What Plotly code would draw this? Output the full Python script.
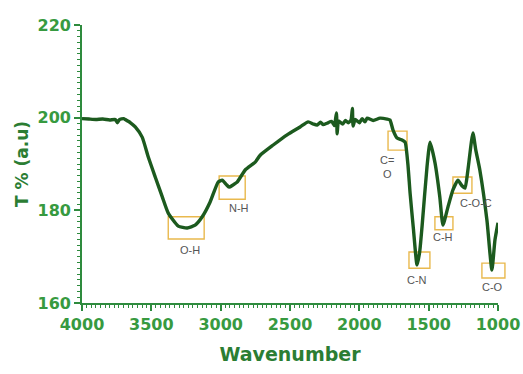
import plotly.graph_objects as go

# ---- data ----
wavenumber = [4000, 3950, 3900, 3850, 3800, 3760, 3745, 3730, 3700, 3688,
              3650, 3616, 3566, 3522, 3472, 3421, 3378, 3306, 3241, 3184,
              3133, 3076, 3018, 2989, 2960, 2939, 2910, 2881, 2823, 2751,
              2715, 2621, 2521, 2427, 2369, 2330, 2305, 2280, 2260, 2233,
              2200, 2180, 2165, 2160, 2150, 2120, 2100, 2080, 2060, 2050,
              2045, 2030, 2000, 1980, 1960, 1944, 1900, 1851, 1800, 1779,
              1757, 1728, 1692, 1670, 1650, 1634, 1610, 1584, 1565, 1548,
              1512, 1490, 1454, 1420, 1397, 1361, 1325, 1289, 1260, 1238,
              1217, 1181, 1160, 1131, 1080, 1044, 1022, 1000]
transmittance = [199.8, 199.7, 199.6, 199.7, 199.5, 199.6, 198.9, 199.6, 199.8, 199.6,
                 198.9, 198.0, 195.8, 191.5, 187.2, 182.9, 179.4, 176.6, 176.2, 176.8,
                 178.6, 181.8, 186.1, 186.5, 185.6, 185.0, 185.5, 186.1, 188.7, 190.4,
                 191.9, 194.1, 196.3, 198.0, 199.1, 198.6, 198.4, 199.0, 198.5, 198.8,
                 199.2, 198.3, 201.0, 196.5, 199.3, 198.6, 199.4, 198.9, 199.5, 202.0,
                 198.2, 199.6, 198.9, 199.8, 199.1, 199.9, 199.4, 199.9, 199.7, 199.5,
                 197.3, 195.6, 195.2, 194.7, 190.0, 183.7, 176.0, 168.2, 171.0, 176.4,
                 189.4, 194.7, 190.2, 183.0, 176.8, 180.7, 184.4, 186.5, 185.3, 184.8,
                 188.7, 196.7, 193.0, 188.7, 177.9, 167.1, 173.6, 177.3]

# band annotations: label, label position, box extent
band_labels = ["O-H", "N-H", "C=<br>O", "C-N", "C-H", "C-O-C", "C-O"]
label_x = [3220, 2867, 1800, 1584, 1397, 1159, 1037]
label_y = [171.4, 180.5, 189.4, 165.0, 174.2, 181.6, 163.4]
box_x0 = [3378, 3011, 1793, 1642, 1455, 1325, 1116]
box_x1 = [3119, 2823, 1656, 1491, 1325, 1188, 950]
box_y0 = [173.8, 182.4, 193.0, 167.5, 175.8, 183.7, 165.4]
box_y1 = [178.6, 187.4, 197.1, 171.0, 178.6, 187.2, 168.6]

x_ticks = [4000, 3500, 3000, 2500, 2000, 1500, 1000]
y_ticks = [160, 180, 200, 220]
x_range = [4000, 1000]
y_range = [160, 220]

AXIS = "#2e8b3e"
TICKTXT = "#379a40"
TITLE = "#2b7d33"
LINE = "#1c5a1e"


def x_to_paper(v):
    # position along the x axis domain (reversed axis), so shapes are not clipped
    return (x_range[0] - v) / (x_range[0] - x_range[1])


fig = go.Figure()
fig.add_trace(go.Scatter(x=wavenumber, y=transmittance, mode="lines",
                         line=dict(color=LINE, width=3.4, shape="spline", smoothing=0.5),
                         showlegend=False))

for i, lab in enumerate(band_labels):
    fig.add_shape(type="rect", xref="paper", yref="y",
                  x0=x_to_paper(box_x0[i]), x1=x_to_paper(box_x1[i]),
                  y0=box_y0[i], y1=box_y1[i],
                  line=dict(color="#e9b94e", width=1.4), layer="below")
    fig.add_annotation(x=label_x[i], y=label_y[i], text=lab, showarrow=False,
                       xref="x", yref="y",
                       font=dict(family="Liberation Sans", size=11, color="#555555"))

axis_common = dict(showline=True, linecolor=AXIS, linewidth=1.6, automargin=False,
                   ticks="outside", tickcolor=AXIS, ticklen=6, tickwidth=1.5,
                   showgrid=False, zeroline=False,
                   tickfont=dict(family="DejaVu Sans", size=16, color=TICKTXT, weight="bold"))

fig.update_xaxes(range=x_range, tickvals=x_ticks, **axis_common,
                 minor=dict(ticks="outside", ticklen=3, tickcolor=AXIS, tickwidth=1,
                            dtick=100 / 3, tick0=1000),
                 title=dict(text="Wavenumber", standoff=15,
                            font=dict(family="DejaVu Sans", size=19, color=TITLE, weight="bold")))
fig.update_yaxes(range=y_range, tickvals=y_ticks, **axis_common,
                 minor=dict(ticks="outside", ticklen=3, tickcolor=AXIS, tickwidth=1,
                            dtick=1.25, tick0=160),
                 title=dict(text="T % (a.u)", standoff=5,
                            font=dict(family="DejaVu Sans", size=17, color=TITLE, weight="bold")))

fig.update_layout(width=523, height=374, margin=dict(l=82, r=25, t=25, b=71),
                  paper_bgcolor="white", plot_bgcolor="white")

fig.write_html("out.html")
